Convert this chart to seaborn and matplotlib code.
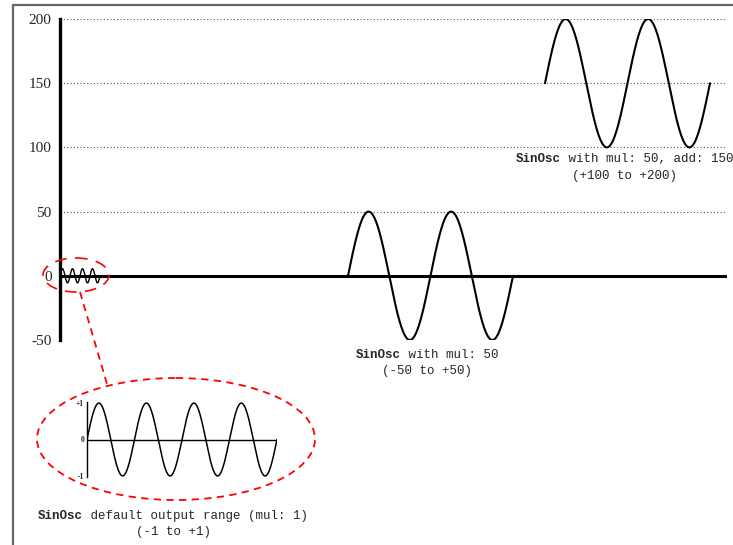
import numpy as np
import pandas as pd
import matplotlib
matplotlib.use("Agg")
import matplotlib.pyplot as plt
from matplotlib.patches import Ellipse
import seaborn as sns

# ---- data: SinOsc settings shown in the diagram ----
wave_names = ["default", "mul50", "mul50_add150"]
mul_values = [5.5, 50, 50]          # small one is drawn exaggerated on the main axes
add_values = [0, 0, 150]
cycle_counts = [4, 2, 2]
x_starts = [0, 288, 485]
x_ends = [40, 453, 650]

inset_mul = 1
inset_cycles = 4

y_ticks = [-50, 0, 50, 100, 150, 200]
y_tick_labels = ["-50", "0", "50", "100", "150", "200"]
inset_ticks = [-1, 0, 1]
inset_tick_labels = ["-1", "0", "+1"]

labels = [
    ("SinOsc", " default output range (mul: 1)", "(-1 to +1)", 173, 516, 532),
    ("SinOsc", " with mul: 50", "(-50 to +50)", 427, 355, 371),
    ("SinOsc", " with mul: 50, add: 150", "(+100 to +200)", 625, 159, 176),
]

# build the wave table
rows = []
for name, m, a, c, x0, x1 in zip(wave_names, mul_values, add_values, cycle_counts, x_starts, x_ends):
    t = np.linspace(0, 1, 400)
    for ti in t:
        rows.append({"wave": name, "x": x0 + ti * (x1 - x0),
                     "y": a + m * np.sin(2 * np.pi * c * ti)})
df = pd.DataFrame(rows)

t_in = np.linspace(0, 1, 600)
df_inset = pd.DataFrame({"x": t_in, "y": inset_mul * np.sin(2 * np.pi * inset_cycles * t_in)})

sns.set_style("white")
plt.rcParams["font.family"] = ["Liberation Serif", "DejaVu Serif"]

W, H = 733, 545
fig = plt.figure(figsize=(W / 100, H / 100), dpi=100)

# ---- main axes ----
ax = fig.add_axes([60 / W, (H - 340) / H, 667 / W, 321 / H])
ax.set_xlim(0, 667)
ax.set_ylim(-50, 200)
ax.grid(axis="y", linestyle=(0, (1, 2)), color="#555555", linewidth=0.8)
ax.grid(axis="x", visible=False)
ax.set_axisbelow(True)
for s in ["top", "right", "bottom"]:
    ax.spines[s].set_visible(False)
ax.spines["left"].set_linewidth(2.4)
ax.spines["left"].set_color("black")
ax.axhline(0, color="black", linewidth=2.2, zorder=2)
big = df[df["wave"] != "default"]
small = df[df["wave"] == "default"]
sns.lineplot(data=big, x="x", y="y", units="wave", estimator=None, color="black",
             linewidth=1.5, ax=ax, zorder=3, sort=False)
sns.lineplot(data=small, x="x", y="y", color="black", linewidth=1.0, ax=ax,
             zorder=3, sort=False, estimator=None)
ax.set_xticks([])
ax.set_yticks(y_ticks)
ax.set_yticklabels(y_tick_labels, fontsize=11)
ax.tick_params(axis="y", length=0, pad=6)
ax.set_xlabel("")
ax.set_ylabel("")

# ---- inset: default range ----
axi = fig.add_axes([87 / W, (H - 477) / H, 190 / W, 75 / H])
axi.set_xlim(0, 1)
axi.set_ylim(-1.03, 1.03)
for s in ["top", "right", "bottom"]:
    axi.spines[s].set_visible(False)
axi.spines["left"].set_linewidth(1.0)
axi.spines["left"].set_color("black")
axi.axhline(0, color="black", linewidth=1.0, zorder=2)
sns.lineplot(data=df_inset, x="x", y="y", color="black", linewidth=1.1, ax=axi, zorder=3)
axi.set_xticks([])
axi.set_yticks(inset_ticks)
axi.set_yticklabels(inset_tick_labels, fontsize=5.5, fontweight="bold")
axi.tick_params(axis="y", length=0, pad=2)
axi.set_xlabel("")
axi.set_ylabel("")
axi.patch.set_visible(False)

# ---- overlay in pixel coordinates for callouts and text ----
ov = fig.add_axes([0, 0, 1, 1], zorder=10)
ov.set_xlim(0, W)
ov.set_ylim(H, 0)
ov.axis("off")
ov.patch.set_visible(False)

ov.plot([13, W], [5, 5], color="#666666", linewidth=1.6)
ov.plot([13, 13], [5, H], color="#666666", linewidth=1.6)

ov.add_patch(Ellipse((76, 275), 66, 34, fill=False, edgecolor="red",
                     linewidth=1.2, linestyle=(0, (7, 5))))
ov.add_patch(Ellipse((176, 439), 278, 122, fill=False, edgecolor="red",
                     linewidth=1.3, linestyle=(0, (4, 3))))
ov.plot([80, 107], [292, 384], color="red", linewidth=1.3, linestyle=(0, (4, 3)))

cw = 0.6 * 9 * 100 / 72  # monospace character width in px
for bold, rest, line2, cx, y1, y2 in labels:
    n = len(bold) + len(rest)
    x0 = cx - n * cw / 2
    ov.text(x0, y1, bold, family="Liberation Mono", fontweight="bold", fontsize=9,
            ha="left", va="center")
    ov.text(x0 + len(bold) * cw, y1, rest, family="Liberation Mono", fontsize=9,
            ha="left", va="center")
    ov.text(cx, y2, line2, family="Liberation Mono", fontsize=9, ha="center", va="center")

fig.savefig("out.png", dpi=100)
